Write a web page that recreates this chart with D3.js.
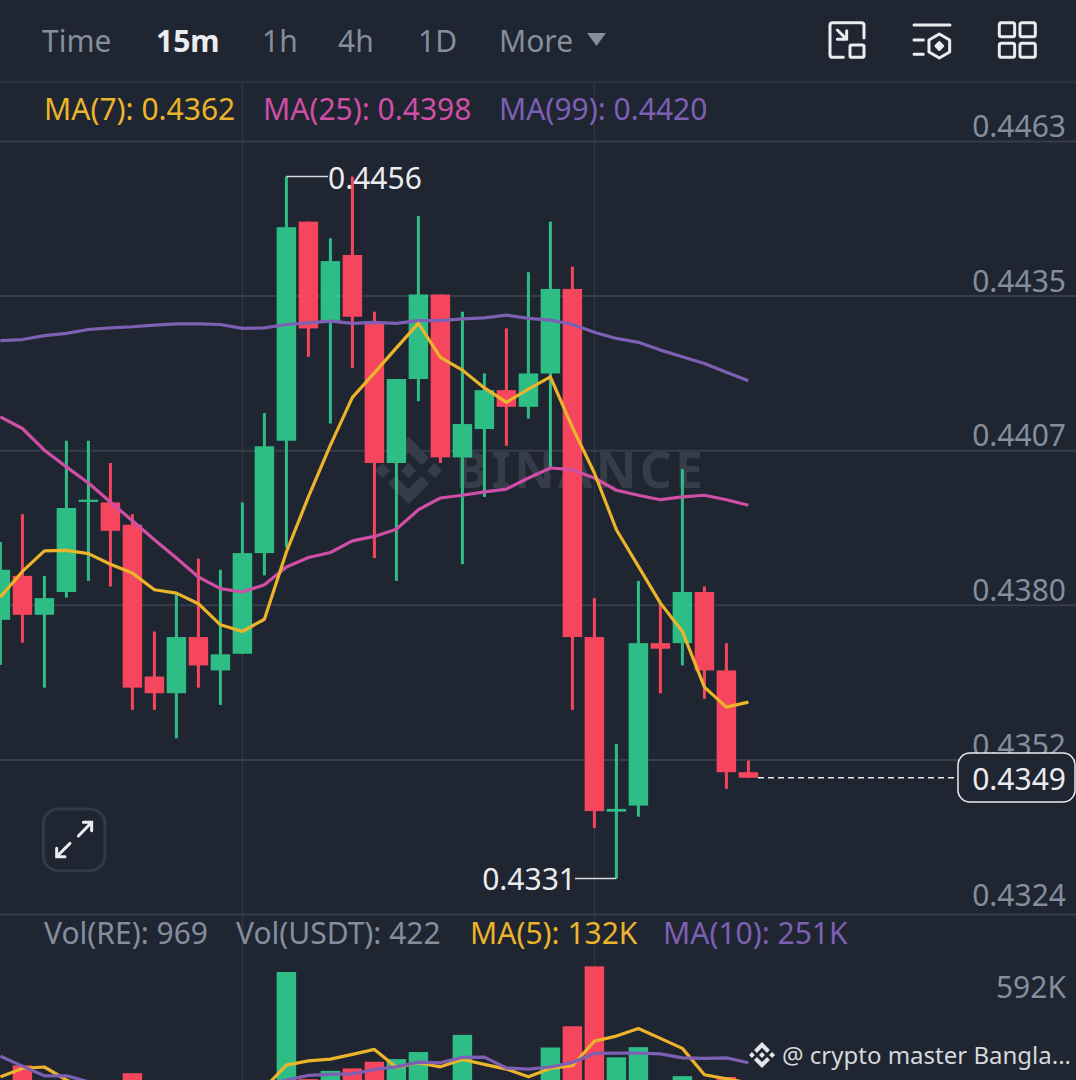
<!DOCTYPE html>
<html>
<head>
<meta charset="utf-8">
<script src="https://d3js.org/d3.v7.min.js"></script>
<style>
html, body { margin: 0; padding: 0; background: #1f2531; overflow: hidden; }
svg { display: block; }
text { font-family: "Noto Sans", sans-serif; }
</style>
</head>
<body>
<div id="chart"></div>
<script>
// candles
var open  = [0.43769,0.43848,0.43778,0.43819,0.43981,0.43980,0.43940,0.43667,0.43637,0.43738,0.43678,0.43708,0.43889,0.44091,0.44485,0.44306,0.44425,0.44303,0.44051,0.44202,0.44354,0.44061,0.44112,0.44182,0.44152,0.44212,0.44364,0.43738,0.43424,0.43435,0.43727,0.43727,0.43819,0.43678,0.43495];
var close = [0.43859,0.43778,0.43808,0.43970,0.43985,0.43929,0.43647,0.43637,0.43738,0.43687,0.43707,0.43889,0.44081,0.44475,0.44293,0.44414,0.44314,0.44051,0.44202,0.44354,0.44061,0.44121,0.44182,0.44152,0.44212,0.44364,0.43738,0.43425,0.43429,0.43727,0.43717,0.43819,0.43678,0.43495,0.43485];
var high  = [0.43909,0.43959,0.43848,0.44091,0.44091,0.44051,0.43959,0.43748,0.43814,0.43879,0.43859,0.43980,0.44141,0.44566,0.44485,0.44455,0.44566,0.44323,0.44202,0.44495,0.44354,0.44323,0.44212,0.44293,0.44394,0.44485,0.44404,0.43808,0.43546,0.43839,0.43798,0.44040,0.43829,0.43727,0.43516];
var low   = [0.43688,0.43728,0.43647,0.43809,0.43839,0.43829,0.43607,0.43607,0.43556,0.43647,0.43616,0.43708,0.43849,0.43899,0.44242,0.44122,0.44222,0.43880,0.43839,0.44162,0.44051,0.43869,0.43990,0.44082,0.44131,0.44041,0.43607,0.43395,0.43304,0.43415,0.43637,0.43687,0.43627,0.43465,0.43485];

// moving averages
var ma7  = [0.43810,0.43856,0.43893,0.43894,0.43888,0.43869,0.43853,0.43823,0.43817,0.43798,0.43760,0.43748,0.43770,0.43891,0.43990,0.44083,0.44169,0.44213,0.44258,0.44302,0.44241,0.44218,0.44186,0.44160,0.44184,0.44206,0.44115,0.44033,0.43931,0.43865,0.43799,0.43748,0.43648,0.43612,0.43621];
var ma25 = [0.44134,0.44113,0.44074,0.44044,0.44015,0.43981,0.43947,0.43913,0.43880,0.43846,0.43825,0.43819,0.43832,0.43864,0.43881,0.43890,0.43911,0.43919,0.43932,0.43967,0.43988,0.43993,0.43999,0.44004,0.44024,0.44042,0.44039,0.44024,0.44002,0.43993,0.43985,0.43990,0.43993,0.43985,0.43975];
var ma99 = [0.44271,0.44273,0.44280,0.44284,0.44291,0.44294,0.44296,0.44299,0.44301,0.44301,0.44300,0.44293,0.44294,0.44300,0.44303,0.44306,0.44302,0.44304,0.44302,0.44307,0.44307,0.44310,0.44312,0.44317,0.44311,0.44308,0.44300,0.44286,0.44275,0.44268,0.44254,0.44242,0.44230,0.44214,0.44199];

// volume panel (K)
var volume = [100,231,120,140,90,130,187,110,130,100,70,145,140,763,153,200,214,252,267,307,130,405,120,90,140,333,454,795,277,335,100,170,130,165,1];
var volMa5  = [166,214,222,148,100,90,110,105,115,120,110,85,102,233,257,267,294,322,220,246,223,265,237,210,166,214,229,369,398,441,385,328,178,155,132];
var volMa10 = [284,227,172,172,138,125,120,115,110,110,108,110,120,148,174,180,183,208,223,250,246,277,278,216,210,222,248,299,301,301,297,274,271,274,246];

var priceTicks = [0.4463, 0.44352, 0.44074, 0.43796, 0.43518, 0.4324];
var volTicks = [592];
var periods = [["Time", 42, false], ["15m", 156, true], ["1h", 262, false], ["4h", 338, false], ["1D", 418, false], ["More", 499, false]];
var lastPrice = 0.43485;
var lastLabel = "0.4349";
var highLabel = "0.4456", lowLabel = "0.4331";

var W = 1076, H = 1080;
var bg = "#1f2531", up = "#2ebd85", down = "#f6465d";
var yellow = "#ecb42a", pink = "#cf4fa6", purple = "#7d60b4", grey = "#848e9c";

var svg = d3.select("#chart").append("svg").attr("width", W).attr("height", H);
svg.append("rect").attr("width", W).attr("height", H).attr("fill", bg);

// scales
var x = d3.scaleLinear().domain([0, 34]).range([0.4, 748.4]);
var y = d3.scaleLinear().domain([0.4324, 0.4463]).range([914, 141]);
var yVol = d3.scaleLinear().domain([0, 592]).range([1106, 1002]);
var bodyW = 19.5;

// vertical grid
[11, 27].forEach(function(i){
	svg.append("line").attr("x1", x(i)).attr("x2", x(i)).attr("y1", 84).attr("y2", H)
		.attr("stroke", "#2f3542").attr("stroke-width", 1.5);
});

// header line
svg.append("line").attr("x1", 0).attr("x2", W).attr("y1", 82).attr("y2", 82)
	.attr("stroke", "#2b313d").attr("stroke-width", 3);

// price axis with full width grid lines
var yAxis = d3.axisLeft(y).tickValues(priceTicks).tickSize(W)
	.tickFormat(function(d){ return d.toFixed(4); });
var gy = svg.append("g").attr("transform", "translate(" + W + ",0)").call(yAxis);
gy.select(".domain").remove();
gy.selectAll("line").attr("stroke", "#363c48").attr("stroke-width", 2);
gy.selectAll("text").attr("x", -10)
	.attr("y", function(d){ return d === 0.4324 ? -3 : 1; })
	.attr("dy", "-0.18em")
	.attr("font-size", 30).attr("fill", grey).attr("text-anchor", "end")
	.style("font-family", '"Noto Sans", sans-serif');

// watermark
var wm = svg.append("g").attr("fill", "#363c48");
var logoPaths = [
	"M38.73 53.2l24.59-24.58 24.6 24.6 14.3-14.31L63.32 0 24.42 38.9z",
	"M0 63.31l14.3-14.31 14.31 14.31-14.31 14.3z",
	"M38.73 73.41l24.59 24.59 24.6-24.6 14.31 14.29-38.9 38.91-38.91-38.88-.02-.02z",
	"M98.28 63.31l14.3-14.31 14.31 14.31-14.31 14.3z",
	"M77.83 63.3L63.32 48.78 52.59 59.51l-1.24 1.23-2.54 2.54 14.51 14.5 14.51-14.52z"
];
var logo = wm.append("g").attr("transform", "translate(375,437) scale(0.53)");
logoPaths.forEach(function(p){ logo.append("path").attr("d", p); });
wm.append("text").attr("x", 455).attr("y", 488).attr("font-size", 50).attr("font-weight", 700)
	.attr("textLength", 248).attr("lengthAdjust", "spacing").text("BINANCE");

// candles
var idx = d3.range(open.length);
svg.append("g").selectAll("rect").data(idx).enter().append("rect")
	.attr("x", function(i){ return x(i) - 1.5; })
	.attr("width", 3)
	.attr("y", function(i){ return y(high[i]); })
	.attr("height", function(i){ return y(low[i]) - y(high[i]); })
	.attr("fill", function(i){ return close[i] >= open[i] ? up : down; });
svg.append("g").selectAll("rect").data(idx).enter().append("rect")
	.attr("x", function(i){ return x(i) - bodyW / 2; })
	.attr("width", bodyW)
	.attr("y", function(i){ return y(Math.max(open[i], close[i])); })
	.attr("height", function(i){ return Math.max(2, Math.abs(y(open[i]) - y(close[i]))); })
	.attr("fill", function(i){ return close[i] >= open[i] ? up : down; });

// ma lines
function drawLine(values, yScale, color){
	var line = d3.line().x(function(d, i){ return x(i); }).y(function(d){ return yScale(d); });
	svg.append("path").datum(values).attr("d", line).attr("fill", "none")
		.attr("stroke", color).attr("stroke-width", 3.2).attr("stroke-linejoin", "round");
}
drawLine(ma99, y, purple);
drawLine(ma25, y, pink);
drawLine(ma7, y, yellow);

// high / low labels
svg.append("polyline").attr("fill", "none").attr("stroke", "#d8dade").attr("stroke-width", 1.5)
	.attr("points", [[x(13), y(high[13])], [328, y(high[13])]].join(" "));
svg.append("text").attr("x", 328).attr("y", y(high[13]) + 12).attr("font-size", 30).attr("fill", "#eaecef").text(highLabel);
svg.append("polyline").attr("fill", "none").attr("stroke", "#d8dade").attr("stroke-width", 1.5)
	.attr("points", [[575, y(low[28])], [x(28), y(low[28])]].join(" "));
svg.append("text").attr("x", 576).attr("y", y(low[28]) + 12).attr("font-size", 30).attr("fill", "#eaecef")
	.attr("text-anchor", "end").text(lowLabel);

// last price
svg.append("line").attr("x1", 758).attr("x2", 958).attr("y1", y(lastPrice)).attr("y2", y(lastPrice))
	.attr("stroke", "#eaecef").attr("stroke-width", 1.5).attr("stroke-dasharray", "6 4");
svg.append("rect").attr("x", 958).attr("y", 753).attr("width", 117).attr("height", 49).attr("rx", 12)
	.attr("fill", bg).attr("stroke", "#eaecef").attr("stroke-width", 1.5);
svg.append("text").attr("x", 1066).attr("y", 790).attr("font-size", 30).attr("fill", "#eaecef")
	.attr("text-anchor", "end").text(lastLabel);

// volume bars
svg.append("g").selectAll("rect").data(idx).enter().append("rect")
	.attr("x", function(i){ return x(i) - bodyW / 2; })
	.attr("width", bodyW)
	.attr("y", function(i){ return yVol(volume[i]); })
	.attr("height", function(i){ return yVol(0) - yVol(volume[i]); })
	.attr("fill", function(i){ return close[i] >= open[i] ? up : down; });
drawLine(volMa5, yVol, yellow);
drawLine(volMa10, yVol, purple);

svg.append("g").selectAll("text").data(volTicks).enter().append("text")
	.attr("x", 1066).attr("y", function(d){ return yVol(d) - 4; })
	.attr("font-size", 30).attr("fill", grey).attr("text-anchor", "end")
	.text(function(d){ return d + "K"; });

// legends
function label(txt, px, py, color){
	svg.append("text").attr("x", px).attr("y", py).attr("font-size", 30).attr("fill", color).text(txt);
}
label("MA(7): 0.4362", 44, 120, yellow);
label("MA(25): 0.4398", 263, 120, pink);
label("MA(99): 0.4420", 499, 120, purple);
label("Vol(RE): 969", 44, 944, grey);
label("Vol(USDT): 422", 236, 944, grey);
label("MA(5): 132K", 470, 944, yellow);
label("MA(10): 251K", 663, 944, purple);

// top nav
periods.forEach(function(p){
	svg.append("text").attr("x", p[1]).attr("y", 52).attr("font-size", 30)
		.attr("font-weight", p[2] ? 700 : 400)
		.attr("fill", p[2] ? "#eaecef" : grey).text(p[0]);
});
svg.append("path").attr("d", "M587 33H606L596.5 46Z").attr("fill", grey);

// nav icons, drawn on a 3x grid
var icons = svg.append("g").attr("transform", "translate(800,0) scale(0.3333)")
	.attr("fill", "none").attr("stroke", "#eaecef").attr("stroke-width", 9)
	.attr("stroke-linecap", "round").attr("stroke-linejoin", "round");
icons.append("path").attr("d", "M130 172H98Q90 172 90 164V76Q90 68 98 68H184Q192 68 192 76V114");
icons.append("rect").attr("x", 150).attr("y", 135).attr("width", 42).attr("height", 37).attr("rx", 5);
icons.append("path").attr("d", "M112 90L138 116M140 92V118H112");
icons.append("path").attr("d", "M342 75H450M342 120H370M342 163H370");
icons.append("path").attr("d", "M418 102L449 120V156L418 174L387 156V120Z");
icons.append("path").attr("d", "M418 128L428 138L418 148L408 138Z").attr("fill", "#eaecef");
[[598, 68], [660, 68], [598, 130], [660, 130]].forEach(function(s){
	icons.append("rect").attr("x", s[0]).attr("y", s[1]).attr("width", 46).attr("height", 42).attr("rx", 6);
});

// expand button
var btn = svg.append("g").attr("transform", "translate(20,790) scale(0.3333)")
	.attr("fill", "none").attr("stroke-width", 9);
btn.append("rect").attr("x", 70).attr("y", 57).attr("width", 185).attr("height", 185).attr("rx", 45)
	.attr("fill", bg).attr("stroke", "#333a47");
btn.append("path").attr("stroke", "#eaecef").attr("stroke-linecap", "round")
	.attr("d", "M175 138L213 99M190 97H215V122M150 160L112 198M110 175V200H135");

// footer credit
var mark = svg.append("g").attr("transform", "translate(749,1042) scale(0.205)").attr("fill", "#e4e6ea");
logoPaths.forEach(function(p){ mark.append("path").attr("d", p); });
svg.append("text").attr("x", 782).attr("y", 1064).attr("font-size", 24).attr("fill", "#d5d8dc")
	.text("@ crypto master Bangla...");
</script>
</body>
</html>
